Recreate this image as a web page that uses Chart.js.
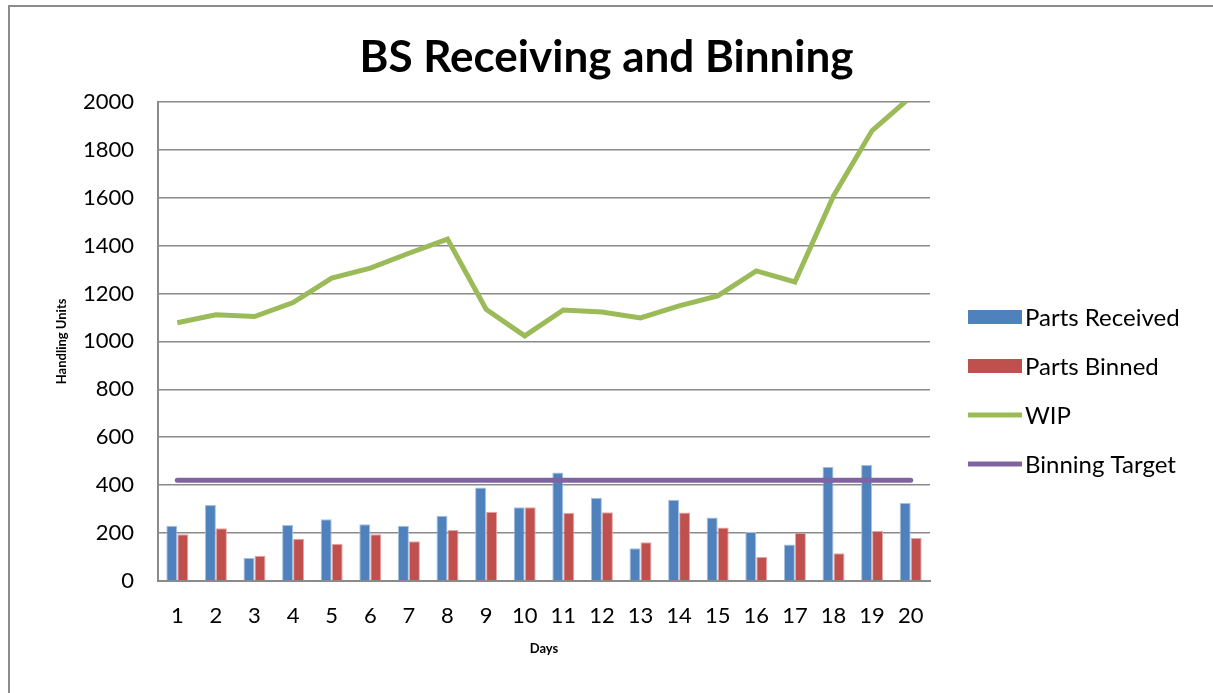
<!DOCTYPE html>
<html>
<head>
<meta charset="utf-8">
<script src="https://cdn.jsdelivr.net/npm/chart.js@4"></script>
<style>
html, body { margin: 0; padding: 0; background: #fff; }
#frame { position: absolute; left: 8px; top: 5px; width: 1300px; height: 800px;
         border-left: 2px solid #8c8c8c; border-top: 2px solid #8c8c8c; }
#wrap { position: absolute; left: 0; top: 0; width: 1213px; height: 693px; }
</style>
</head>
<body>
<div id="frame"></div>
<div id="wrap"><canvas id="chart" width="1213" height="693"></canvas></div>
<script>
// data
var days = ["1","2","3","4","5","6","7","8","9","10","11","12","13","14","15","16","17","18","19","20"];
var partsReceived = [231, 317, 96, 234, 258, 237, 231, 272, 390, 308, 453, 347, 137, 339, 265, 205, 152, 477, 484, 326];
var partsBinned = [195, 220, 105, 176, 155, 195, 166, 213, 289, 308, 285, 287, 162, 286, 223, 100, 201, 116, 209, 179];
var wip = [1078, 1111, 1104, 1162, 1264, 1306, 1368, 1427, 1134, 1023, 1131, 1123, 1098, 1148, 1190, 1294, 1248, 1607, 1880, 2020];
var binningTarget = [420, 420, 420, 420, 420, 420, 420, 420, 420, 420, 420, 420, 420, 420, 420, 420, 420, 420, 420, 420];
var yTicks = [0, 200, 400, 600, 800, 1000, 1200, 1400, 1600, 1800, 2000];

var gridGray = "#8a8a8a";

// legend drawn on the right, like excel
var sideLegend = {
  id: "sideLegend",
  afterDraw: function(chart) {
    var ctx = chart.ctx;
    var x0 = chart.chartArea.right + 38;
    ctx.save();
    ctx.font = "24px Lato";
    ctx.textBaseline = "middle";
    chart.data.datasets.forEach(function(ds, i) {
      var y = 317 + i * 49;
      if (ds.type === "line") {
        ctx.strokeStyle = ds.borderColor;
        ctx.lineWidth = ds.borderWidth;
        ctx.beginPath();
        ctx.moveTo(x0, y);
        ctx.lineTo(x0 + 54, y);
        ctx.stroke();
      } else {
        ctx.fillStyle = ds.backgroundColor;
        ctx.fillRect(x0, y - 7, 54, 14);
      }
      ctx.fillStyle = "#000";
      ctx.fillText(ds.label, x0 + 57, y + 1);
    });
    ctx.restore();
  }
};

var ctx = document.getElementById("chart").getContext("2d");
var myChart = new Chart(ctx, {
  type: "bar",
  data: {
    labels: days,
    datasets: [
      {
        type: "bar",
        label: "Parts Received",
        data: partsReceived,
        backgroundColor: "#4F81BD",
        borderColor: "#a7c0e0",
        borderWidth: 1,
        order: 2
      },
      {
        type: "bar",
        label: "Parts Binned",
        data: partsBinned,
        backgroundColor: "#C0504D",
        borderColor: "#e0a9a7",
        borderWidth: 1,
        order: 2
      },
      {
        type: "line",
        label: "WIP",
        data: wip,
        borderColor: "#9BBB59",
        backgroundColor: "#9BBB59",
        borderWidth: 5,
        pointRadius: 0,
        tension: 0,
        order: 1
      },
      {
        type: "line",
        label: "Binning Target",
        data: binningTarget,
        borderColor: "#8064A2",
        backgroundColor: "#8064A2",
        borderWidth: 5,
        pointRadius: 0,
        tension: 0,
        borderCapStyle: "round",
        order: 1
      }
    ]
  },
  plugins: [sideLegend],
  options: {
    responsive: false,
    animation: false,
    layout: { padding: 0 },
    datasets: {
      bar: { categoryPercentage: 0.57, barPercentage: 1 }
    },
    plugins: {
      legend: { display: false },
      tooltip: { enabled: false },
      title: {
        display: true,
        text: "BS Receiving and Binning",
        color: "#000",
        font: { family: "Lato", size: 44, weight: "bold" },
        padding: { top: 31, bottom: 18 }
      }
    },
    scales: {
      x: {
        grid: { display: false, drawTicks: false },
        border: { color: gridGray, width: 2 },
        ticks: { color: "#000", font: { family: "Lato", size: 22 }, padding: 22, maxRotation: 0, autoSkip: false },
        title: { display: true, text: "Days", color: "#000", font: { family: "Lato", size: 13, weight: "bold" }, padding: { top: 36, bottom: 36 } },
        afterFit: function(s) { s.height = 112; }
      },
      y: {
        min: 0,
        max: 2000,
        afterBuildTicks: function(s) { s.ticks = yTicks.map(function(v) { return { value: v }; }); },
        grid: { color: gridGray, lineWidth: 1.5, drawTicks: false },
        border: { color: gridGray, width: 2 },
        ticks: { color: "#000", font: { family: "Lato", size: 22 }, padding: 24,
                 callback: function(v) { return String(v); } },
        title: { display: true, text: "Handling Units", color: "#000", font: { family: "Lato", size: 13, weight: "bold" }, padding: { top: 54, bottom: 0 } },
        afterFit: function(s) { s.width = 158; }
      },
      // empty axis that keeps room for the legend
      legendRoom: {
        type: "linear",
        position: "right",
        grid: { display: false, drawTicks: false },
        border: { display: false },
        ticks: { display: false },
        afterFit: function(s) { s.width = 283; }
      }
    }
  }
});
</script>
</body>
</html>
